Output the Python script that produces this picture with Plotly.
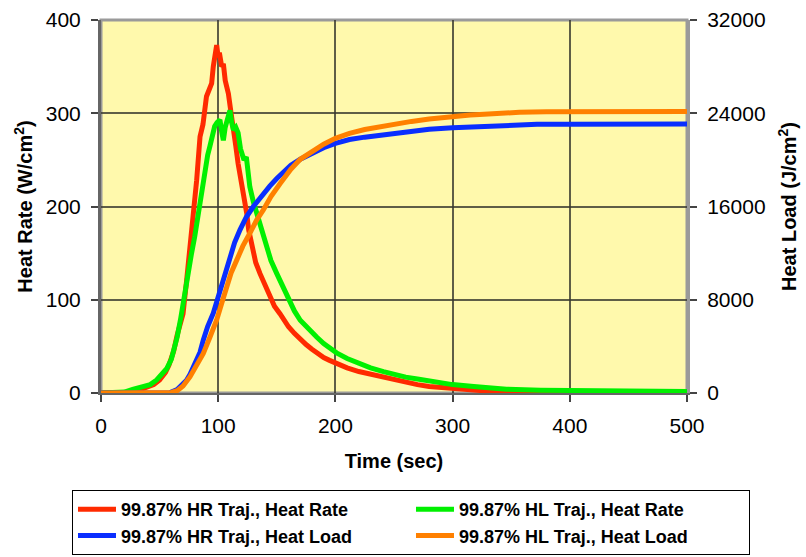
import plotly.graph_objects as go

# Time grid (sec) and heat-rate readings (W/cm^2) for the 99.87% HR trajectory
hr_t = [0, 10, 20, 30, 40, 45, 50, 55, 58, 60, 62, 65, 68, 70, 73, 76, 79, 81.6, 84.5, 87,
        90, 92, 94.4, 95.8, 97, 98.7, 100, 101, 103, 104.4, 106, 108.7, 111, 113, 115, 117,
        120, 122, 124.3, 126, 128.6, 132, 135.7, 140, 144, 148, 152.7, 156, 160, 165, 170,
        175, 180, 185, 190, 195, 200, 210, 220, 230, 240, 250, 260, 270, 280, 289, 300, 320,
        332, 345, 365, 400, 450, 500]
hr_rate = [0, 0, 0.5, 2, 6, 9, 14, 22, 30, 38, 45, 62, 75, 85, 120, 157, 190, 228, 275, 288,
           318, 325, 332, 350, 360, 373, 360, 365, 350, 353, 335, 321, 300, 285, 265, 246,
           225, 208, 193, 175, 157, 140, 128, 115, 103, 93, 85, 78, 71, 64, 57,
           52, 47, 42, 38, 35, 32, 27, 23, 20, 17, 14, 11, 9, 7, 6, 5, 3,
           1, 0.5, 0, 0, 0, 0]

# Heat-rate readings for the 99.87% HL trajectory
hl_t = [0, 10, 20, 27, 35, 42, 47.5, 52, 56, 60, 63, 65, 68, 71, 74, 77, 80, 82, 85, 87,
        89, 91, 93, 95, 97, 99, 101.5, 103, 104.4, 106, 108, 110, 111.5, 113, 115, 117,
        119, 120, 122, 124, 126, 127, 130, 133, 136, 141, 145, 150, 154, 158.5, 161, 165,
        170, 177, 184, 190, 195, 201, 210, 220, 230, 241, 250, 260, 270, 280, 289, 300,
        318, 346, 375, 403, 450, 500]
hl_rate = [0, 0, 1, 4, 6, 9, 14, 20, 26, 36, 48, 60, 80, 105, 128, 148, 168, 185, 210, 228,
           239, 255, 265, 275, 286, 290, 293, 280, 271, 285, 295, 303, 290, 282, 285, 279,
           262, 257, 250, 253, 232, 221, 205, 193, 180, 157, 142, 128, 117, 107, 100, 88,
           78, 68, 60, 53, 48, 43, 37, 32, 27, 23, 20, 17, 15, 13, 10, 9,
           7, 4, 3, 2.5, 2, 1.5]

# Heat-load readings (J/cm^2) for both trajectories
hr_load_t = [0, 50, 59, 65, 73, 76, 80, 84.5, 87.3, 91, 95.8, 101.5, 105, 110, 114, 118.6,
             124, 130, 137, 144, 150, 156, 162, 170, 180, 190, 200, 212, 225, 238, 250,
             265, 280, 300, 323, 340, 372, 400, 450, 500]
hr_load = [0, 0, 30, 300, 1100, 1600, 2500, 3500, 4550, 5700, 6840, 8840, 10000, 11700,
           12900, 14000, 15100, 16000, 16950, 17750, 18400, 18950, 19550, 20050, 20600,
           21050, 21420, 21750, 21950, 22130, 22300, 22460, 22620, 22750, 22850, 22930,
           23050, 23060, 23070, 23070]

hl_load_t = [0, 55, 60, 65, 70, 76, 81, 87.3, 93, 98.7, 103, 107, 111, 115.8, 121, 127,
             132.8, 138.5, 145, 152.7, 162, 170, 180, 190, 200, 212, 225, 238, 250,
             265, 280, 300, 315, 323, 340, 357, 380, 400, 450, 500]
hl_load = [0, 0, 50, 200, 600, 1400, 2300, 3400, 4800, 6260, 7700, 9120, 10300, 11400,
           12600, 13700, 14840, 15700, 16850, 17950, 19200, 20050, 20750, 21350,
           21850, 22280, 22600, 22850, 23050, 23300, 23500, 23750, 23850, 23900, 24000,
           24080, 24120, 24130, 24140, 24140]

x_ticks = [0, 100, 200, 300, 400, 500]
rate_ticks = [0, 100, 200, 300, 400]
load_ticks = [0, 8000, 16000, 24000, 32000]
load_tick_labels = ["0", "8000", "16000", "24000", "32000"]

FONT = "Liberation Sans, Arial, sans-serif"
GRID = "rgba(55,55,45,0.8)"

fig = go.Figure()
fig.add_trace(go.Scatter(x=hr_t, y=hr_rate, mode="lines", name="99.87% HR Traj., Heat Rate",
                         line=dict(color="#FF2A00", width=5)))
fig.add_trace(go.Scatter(x=hl_t, y=hl_rate, mode="lines", name="99.87% HL Traj., Heat Rate",
                         line=dict(color="#00F000", width=5)))
fig.add_trace(go.Scatter(x=hr_load_t, y=hr_load, mode="lines", name="99.87% HR Traj., Heat Load",
                         line=dict(color="#0A2EFF", width=5), yaxis="y2"))
fig.add_trace(go.Scatter(x=hl_load_t, y=hl_load, mode="lines", name="99.87% HL Traj., Heat Load",
                         line=dict(color="#FF8000", width=5), yaxis="y2"))

# Plot-area frame drawn under the axis lines
fig.add_shape(type="rect", xref="paper", yref="paper", x0=0, x1=1, y0=0, y1=1,
              line=dict(color="#9a9a9a", width=3), layer="below")

fig.update_layout(
    width=806, height=557,
    margin=dict(l=101, r=119, t=20, b=164, autoexpand=False),
    paper_bgcolor="white",
    plot_bgcolor="#FFF9AC",
    font=dict(family=FONT, size=21, color="black"),
    showlegend=True,
    xaxis=dict(
        range=[0, 500], tickvals=x_ticks, ticks="outside", ticklen=7, tickwidth=1.5,
        tickcolor="#444", showline=True, linecolor="#666", linewidth=2,
        showgrid=True, gridcolor=GRID, gridwidth=1.5, zeroline=False,
        ticklabelstandoff=6,
        title=dict(text="<b>Time (sec)</b>", font=dict(size=20), standoff=18),
    ),
    yaxis=dict(
        range=[0, 400], tickvals=rate_ticks, ticks="outside", ticklen=7, tickwidth=1.5,
        tickcolor="#444", showline=True, linecolor="#666", linewidth=3,
        showgrid=True, gridcolor=GRID, gridwidth=1.5, zeroline=False,
        ticklabelstandoff=6,
        title=dict(text="<b>Heat Rate (W/cm<sup>2</sup>)</b>", font=dict(size=20), standoff=8),
    ),
    yaxis2=dict(
        range=[0, 32000], tickvals=load_ticks, ticktext=load_tick_labels,
        overlaying="y", side="right",
        ticks="outside", ticklen=7, tickwidth=1.5, tickcolor="#444",
        showline=True, linecolor="#9a9a9a", linewidth=3,
        showgrid=False, zeroline=False, ticklabelstandoff=6,
        title=dict(text="<b>Heat Load (J/cm<sup>2</sup>)</b>", font=dict(size=20), standoff=18),
    ),
    legend=dict(
        orientation="h", x=-0.0495, xanchor="left", y=-0.26, yanchor="top",
        bgcolor="white", bordercolor="black", borderwidth=1,
        font=dict(family=FONT, size=18, color="black", weight="bold"),
        entrywidth=285, itemwidth=38, tracegroupgap=0,
    ),
)

fig.write_html("out.html")
